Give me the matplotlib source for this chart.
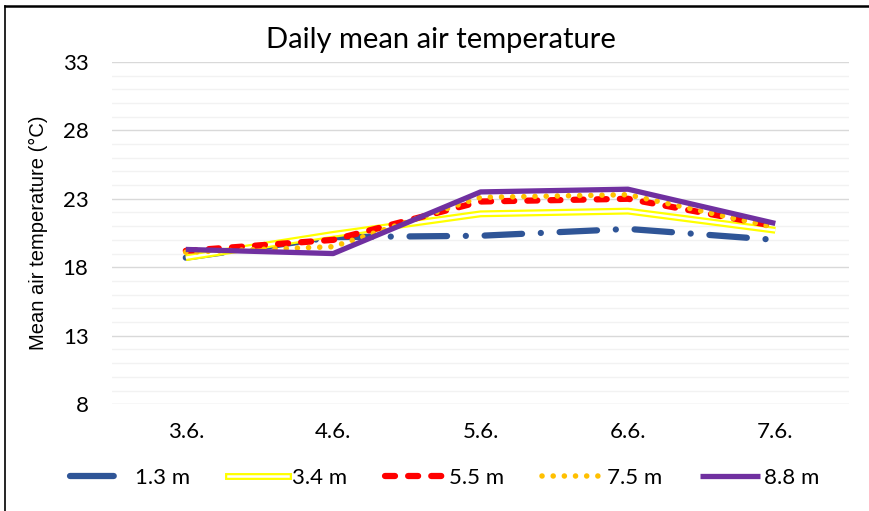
import matplotlib
matplotlib.use('Agg')
import matplotlib.pyplot as plt
from matplotlib.lines import Line2D
import matplotlib.patheffects as pe

# Dados
dates = ["3.6.", "4.6.", "5.6.", "6.6.", "7.6."]
t_1_3 = [18.7, 20.2, 20.3, 20.8, 20.0]
t_3_4 = [18.7, 20.4, 21.9, 22.1, 20.7]
t_5_5 = [19.2, 20.0, 22.8, 23.0, 21.0]
t_7_5 = [19.1, 19.5, 23.1, 23.3, 20.9]
t_8_8 = [19.3, 19.0, 23.5, 23.7, 21.2]
y_ticks = [8, 13, 18, 23, 28, 33]

FONT = 'Lato'

# estilos das séries
BLUE = dict(color='#2F5597', linewidth=4.5, dashes=(6, 3, 0.01, 3), dash_capstyle='round')
RED = dict(color='#FF0000', linewidth=4.5, dashes=(1.6, 2.1), dash_capstyle='round')
ORANGE = dict(color='#FFC000', linewidth=4, dashes=(0.01, 2.0), dash_capstyle='round')
PURPLE = dict(color='#7030A0', linewidth=3.8, solid_capstyle='butt')

fig = plt.figure(figsize=(8.69, 5.11), dpi=100)
ax = fig.add_axes([0.129, 0.209, 0.848, 0.670])

x = list(range(len(dates)))

# linhas
ax.plot(x, t_1_3, zorder=3, **BLUE)
ax.plot(x, t_3_4, color='#FFFF00', linewidth=5, zorder=4, solid_capstyle='butt')
ax.plot(x, t_3_4, color='white', linewidth=1.8, zorder=4, solid_capstyle='butt')
ax.plot(x, t_5_5, zorder=5, **RED)
ax.plot(x, t_7_5, zorder=6, **ORANGE)
ax.plot(x, t_8_8, zorder=7, **PURPLE)

ax.set_xlim(-0.5, len(dates) - 0.5)
ax.set_ylim(8, 33)
ax.set_yticks(y_ticks)
ax.set_yticks(range(8, 34), minor=True)
ax.set_xticks(x)
ax.set_xticklabels(dates, fontsize=16, fontfamily=FONT)
ax.set_yticklabels([str(v) for v in y_ticks], fontsize=16, fontfamily=FONT)
ax.tick_params(axis='both', which='both', length=0)
ax.tick_params(axis='y', pad=17)
ax.tick_params(axis='x', pad=13)

ax.grid(True, axis='y', which='major', color='#D9D9D9', linewidth=1)
ax.grid(True, axis='y', which='minor', color='#F2F2F2', linewidth=1)
ax.set_axisbelow(True)
for s in ax.spines.values():
    s.set_visible(False)

ax.set_ylabel("Mean air temperature (°C)", fontsize=14.5, fontfamily='Liberation Sans')
ax.yaxis.set_label_coords(-0.087, 0.5)
fig.text(0.507, 0.922, "Daily mean air temperature", ha='center', va='center',
         fontsize=21, fontfamily=FONT)

# legenda
blue_leg = dict(BLUE, dashes=(7, 10))
handles = [
    Line2D([], [], **blue_leg),
    Line2D([], [], color='#FFFF00', linewidth=5,
           path_effects=[pe.Stroke(linewidth=5, foreground='#FFFF00'),
                         pe.Stroke(linewidth=1.8, foreground='white')]),
    Line2D([], [], **RED),
    Line2D([], [], **ORANGE),
    Line2D([], [], **PURPLE),
]
labels = ["1.3 m", "3.4 m", "5.5 m", "7.5 m", "8.8 m"]
fig.legend(handles, labels, loc='center', bbox_to_anchor=(0.512, 0.065), ncol=5,
           frameon=False, prop={'family': FONT, 'size': 16}, handlelength=2.7,
           handletextpad=0.2, columnspacing=1.7)

# moldura (só esquerda e topo visíveis)
fig.add_artist(Line2D([0.006, 0.006], [0, 0.988], color='black', linewidth=1.2,
                      transform=fig.transFigure))
fig.add_artist(Line2D([0.006, 1.0], [0.988, 0.988], color='black', linewidth=1.8,
                      transform=fig.transFigure))

fig.savefig('out.png', dpi=100, facecolor='white')
